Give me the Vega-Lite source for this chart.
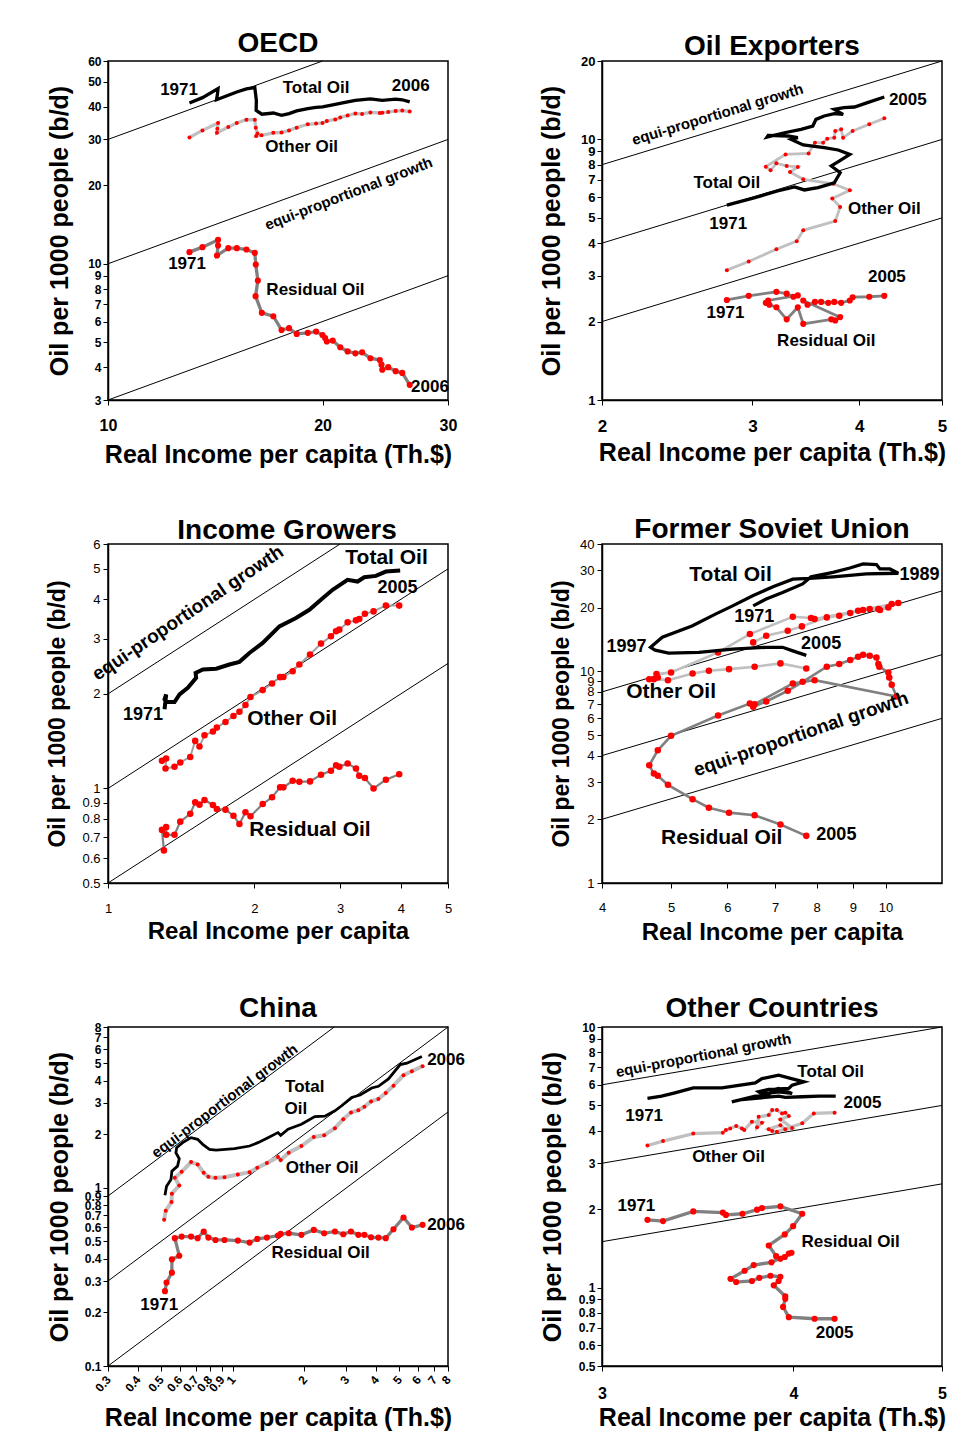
{
"$schema":"https://vega.github.io/schema/vega-lite/v6.json",
"padding":{"left":45,"top":29,"right":5,"bottom":5},
"config":{"font":"Liberation Sans","view":{"stroke":"#000","strokeWidth":1.5},
"axis":{"grid":false,"domainColor":"#000","domainWidth":1.5,"tickColor":"#000","tickSize":5,"labelColor":"#000","titleColor":"#000","titleFontWeight":"bold","labelOverlap":false,"labelFlush":false,"labelBound":false,"format":"~g"},
"axisX":{"titleBaseline":"alphabetic"},"axisY":{"titleBaseline":"middle"},
"title":{"fontSize":28,"fontWeight":"bold","color":"#000","anchor":"middle","frame":"group","baseline":"alphabetic"}},
"datasets":{
"p1":[{"s":"T","x":13.01,"y":41.4},{"s":"T","x":13.57,"y":43.4},{"s":"T","x":14.27,"y":47.0},{"s":"T","x":14.24,"y":44.6},{"s":"T","x":14.2,"y":42.6},{"s":"T","x":14.75,"y":44.3},{"s":"T","x":15.16,"y":45.6},{"s":"T","x":15.64,"y":46.9},{"s":"T","x":16.07,"y":47.4},{"s":"T","x":16.15,"y":42.4},{"s":"T","x":16.14,"y":38.8},{"s":"T","x":16.44,"y":37.5},{"s":"T","x":17.06,"y":37.9},{"s":"T","x":17.52,"y":37.1},{"s":"T","x":17.95,"y":37.7},{"s":"T","x":18.4,"y":38.6},{"s":"T","x":19.07,"y":39.4},{"s":"T","x":19.59,"y":39.8},{"s":"T","x":20.0,"y":40.0},{"s":"T","x":20.84,"y":40.9},{"s":"T","x":21.69,"y":41.8},{"s":"T","x":22.24,"y":42.4},{"s":"T","x":23.35,"y":42.9},{"s":"T","x":24.26,"y":42.4},{"s":"T","x":25.33,"y":42.8},{"s":"T","x":25.88,"y":42.6},{"s":"T","x":26.51,"y":41.8},
{"s":"O","x":13.01,"y":30.5},{"s":"O","x":13.57,"y":32.5},{"s":"O","x":14.27,"y":34.7},{"s":"O","x":14.24,"y":33.0},{"s":"O","x":14.22,"y":31.8},{"s":"O","x":14.75,"y":33.5},{"s":"O","x":15.16,"y":34.7},{"s":"O","x":15.64,"y":35.7},{"s":"O","x":16.07,"y":35.7},{"s":"O","x":16.12,"y":33.3},{"s":"O","x":16.21,"y":31.6},{"s":"O","x":16.14,"y":30.9},{"s":"O","x":16.42,"y":31.1},{"s":"O","x":17.06,"y":31.8},{"s":"O","x":17.52,"y":31.9},{"s":"O","x":17.95,"y":32.5},{"s":"O","x":18.4,"y":33.3},{"s":"O","x":19.07,"y":34.3},{"s":"O","x":19.59,"y":34.5},{"s":"O","x":20.0,"y":34.7},{"s":"O","x":20.28,"y":35.3},{"s":"O","x":20.84,"y":35.8},{"s":"O","x":21.18,"y":36.4},{"s":"O","x":21.69,"y":37.1},{"s":"O","x":22.24,"y":37.7},{"s":"O","x":22.73,"y":37.6},{"s":"O","x":23.35,"y":38.1},{"s":"O","x":24.07,"y":37.9},{"s":"O","x":24.26,"y":38.0},{"s":"O","x":24.73,"y":38.2},{"s":"O","x":25.33,"y":38.6},{"s":"O","x":25.88,"y":38.7},{"s":"O","x":26.51,"y":38.4},
{"s":"R","x":13.01,"y":11.08},{"s":"R","x":13.57,"y":11.58},{"s":"R","x":14.27,"y":12.36},{"s":"R","x":14.27,"y":11.75},{"s":"R","x":14.22,"y":10.76},{"s":"R","x":14.75,"y":11.48},{"s":"R","x":15.16,"y":11.48},{"s":"R","x":15.64,"y":11.34},{"s":"R","x":16.07,"y":11.01},{"s":"R","x":16.12,"y":9.93},{"s":"R","x":16.23,"y":8.62},{"s":"R","x":16.11,"y":7.51},{"s":"R","x":16.44,"y":6.48},{"s":"R","x":17.06,"y":6.29},{"s":"R","x":17.52,"y":5.57},{"s":"R","x":17.95,"y":5.66},{"s":"R","x":18.4,"y":5.38},{"s":"R","x":19.07,"y":5.43},{"s":"R","x":19.59,"y":5.49},{"s":"R","x":20.0,"y":5.33},{"s":"R","x":20.17,"y":5.19},{"s":"R","x":20.28,"y":5.03},{"s":"R","x":20.67,"y":5.07},{"s":"R","x":21.18,"y":4.78},{"s":"R","x":21.69,"y":4.61},{"s":"R","x":22.24,"y":4.53},{"s":"R","x":22.73,"y":4.57},{"s":"R","x":23.35,"y":4.34},{"s":"R","x":24.07,"y":4.27},{"s":"R","x":24.2,"y":4.1},{"s":"R","x":24.26,"y":3.92},{"s":"R","x":24.73,"y":4.01},{"s":"R","x":25.33,"y":3.87},{"s":"R","x":25.88,"y":3.81},{"s":"R","x":26.51,"y":3.43}],
"e1":[{"g":"a","x":10,"y":30},{"g":"a","x":20,"y":60},{"g":"b","x":10,"y":10},{"g":"b","x":30,"y":30},{"g":"c","x":10,"y":3},{"g":"c","x":30,"y":9}],
"l1":[{"k":"y","t":"1971","x":12.58,"y":46.6},{"k":"n","t":"Total Oil","x":19.59,"y":47.4},{"k":"y","t":"2006","x":26.6,"y":48.0},{"k":"n","t":"Other Oil","x":18.7,"y":28.0},{"k":"y","t":"1971","x":12.91,"y":9.99},{"k":"n","t":"Residual Oil","x":19.55,"y":7.94},{"k":"y","t":"2006","x":28.3,"y":3.38},{"k":"e","t":"equi-proportional growth","x":21.76,"y":18.6}],
"p2":[{"s":"T","x":2.8,"y":5.6},{"s":"T","x":3.02,"y":5.98},{"s":"T","x":3.21,"y":6.34},{"s":"T","x":3.36,"y":6.57},{"s":"T","x":3.45,"y":6.4},{"s":"T","x":3.58,"y":6.53},{"s":"T","x":3.74,"y":6.82},{"s":"T","x":3.8,"y":7.45},{"s":"T","x":3.71,"y":7.91},{"s":"T","x":3.79,"y":8.26},{"s":"T","x":3.9,"y":8.76},{"s":"T","x":3.78,"y":9.11},{"s":"T","x":3.64,"y":9.3},{"s":"T","x":3.44,"y":9.52},{"s":"T","x":3.33,"y":10.0},{"s":"T","x":3.39,"y":10.16},{"s":"T","x":3.3,"y":10.31},{"s":"T","x":3.13,"y":10.37},{"s":"T","x":3.12,"y":10.21},{"s":"T","x":3.27,"y":10.61},{"s":"T","x":3.42,"y":10.93},{"s":"T","x":3.53,"y":11.26},{"s":"T","x":3.56,"y":11.94},{"s":"T","x":3.64,"y":12.3},{"s":"T","x":3.74,"y":12.56},{"s":"T","x":3.83,"y":12.48},{"s":"T","x":3.74,"y":13.04},{"s":"T","x":3.84,"y":13.24},{"s":"T","x":3.95,"y":13.32},{"s":"T","x":4.09,"y":13.84},{"s":"T","x":4.28,"y":14.55},
{"s":"O","x":2.8,"y":3.15},{"s":"O","x":2.97,"y":3.4},{"s":"O","x":3.2,"y":3.79},{"s":"O","x":3.38,"y":4.07},{"s":"O","x":3.44,"y":4.48},{"s":"O","x":3.75,"y":4.86},{"s":"O","x":3.8,"y":5.5},{"s":"O","x":3.72,"y":5.94},{"s":"O","x":3.9,"y":6.38},{"s":"O","x":3.73,"y":6.76},{"s":"O","x":3.44,"y":7.03},{"s":"O","x":3.32,"y":7.5},{"s":"O","x":3.39,"y":7.84},{"s":"O","x":3.29,"y":7.91},{"s":"O","x":3.2,"y":8.1},{"s":"O","x":3.15,"y":7.61},{"s":"O","x":3.11,"y":7.86},{"s":"O","x":3.28,"y":8.76},{"s":"O","x":3.49,"y":8.84},{"s":"O","x":3.55,"y":9.72},{"s":"O","x":3.63,"y":9.72},{"s":"O","x":3.67,"y":10.07},{"s":"O","x":3.74,"y":10.16},{"s":"O","x":3.75,"y":10.77},{"s":"O","x":3.81,"y":10.93},{"s":"O","x":3.83,"y":10.16},{"s":"O","x":3.93,"y":10.77},{"s":"O","x":4.11,"y":11.43},{"s":"O","x":4.28,"y":12.05},
{"s":"R","x":2.8,"y":2.42},{"s":"R","x":2.97,"y":2.51},{"s":"R","x":3.2,"y":2.6},{"s":"R","x":3.29,"y":2.56},{"s":"R","x":3.35,"y":2.49},{"s":"R","x":3.39,"y":2.52},{"s":"R","x":3.13,"y":2.41},{"s":"R","x":3.11,"y":2.36},{"s":"R","x":3.14,"y":2.32},{"s":"R","x":3.2,"y":2.27},{"s":"R","x":3.29,"y":2.04},{"s":"R","x":3.39,"y":2.27},{"s":"R","x":3.44,"y":1.96},{"s":"R","x":3.71,"y":2.04},{"s":"R","x":3.75,"y":2.02},{"s":"R","x":3.8,"y":2.08},{"s":"R","x":3.44,"y":2.41},{"s":"R","x":3.48,"y":2.32},{"s":"R","x":3.55,"y":2.38},{"s":"R","x":3.61,"y":2.38},{"s":"R","x":3.68,"y":2.36},{"s":"R","x":3.74,"y":2.38},{"s":"R","x":3.81,"y":2.36},{"s":"R","x":3.9,"y":2.41},{"s":"R","x":3.93,"y":2.48},{"s":"R","x":4.11,"y":2.49},{"s":"R","x":4.28,"y":2.51}],
"e2":[{"g":"a","x":2,"y":8},{"g":"a","x":5,"y":20},{"g":"b","x":2,"y":4},{"g":"b","x":5,"y":10},{"g":"c","x":2,"y":2},{"g":"c","x":5,"y":5}],
"l2":[{"k":"e","t":"equi-proportional growth","x":2.73,"y":12.48},{"k":"y","t":"2005","x":4.56,"y":14.13},{"k":"n","t":"Total Oil","x":2.8,"y":6.82},{"k":"y","t":"1971","x":2.81,"y":4.75},{"k":"n","t":"Other Oil","x":4.28,"y":5.39},{"k":"y","t":"2005","x":4.31,"y":2.96},{"k":"y","t":"1971","x":2.79,"y":2.16},{"k":"n","t":"Residual Oil","x":3.66,"y":1.68}],
"p3":[{"s":"T","x":1.307,"y":1.786},{"s":"T","x":1.317,"y":1.992},{"s":"T","x":1.307,"y":1.921},{"s":"T","x":1.322,"y":1.884},{"s":"T","x":1.37,"y":1.884},{"s":"T","x":1.403,"y":1.992},{"s":"T","x":1.459,"y":2.092},{"s":"T","x":1.518,"y":2.25},{"s":"T","x":1.514,"y":2.333},{"s":"T","x":1.567,"y":2.391},{"s":"T","x":1.669,"y":2.405},{"s":"T","x":1.777,"y":2.48},{"s":"T","x":1.863,"y":2.529},{"s":"T","x":1.953,"y":2.7},{"s":"T","x":2.08,"y":2.905},{"s":"T","x":2.251,"y":3.28},{"s":"T","x":2.435,"y":3.487},{"s":"T","x":2.594,"y":3.705},{"s":"T","x":2.762,"y":4.034},{"s":"T","x":2.896,"y":4.288},{"s":"T","x":3.108,"y":4.612},{"s":"T","x":3.259,"y":4.557},{"s":"T","x":3.364,"y":4.703},{"s":"T","x":3.554,"y":4.749},{"s":"T","x":3.726,"y":4.902},{"s":"T","x":3.987,"y":4.938},
{"s":"O","x":1.291,"y":1.224},{"s":"O","x":1.317,"y":1.245},{"s":"O","x":1.313,"y":1.158},{"s":"O","x":1.37,"y":1.172},{"s":"O","x":1.408,"y":1.21},{"s":"O","x":1.476,"y":1.26},{"s":"O","x":1.511,"y":1.417},{"s":"O","x":1.542,"y":1.36},{"s":"O","x":1.579,"y":1.477},{"s":"O","x":1.643,"y":1.517},{"s":"O","x":1.674,"y":1.562},{"s":"O","x":1.744,"y":1.628},{"s":"O","x":1.811,"y":1.701},{"s":"O","x":1.863,"y":1.755},{"s":"O","x":1.917,"y":1.843},{"s":"O","x":1.963,"y":1.954},{"s":"O","x":2.08,"y":2.056},{"s":"O","x":2.174,"y":2.157},{"s":"O","x":2.258,"y":2.261},{"s":"O","x":2.294,"y":2.264},{"s":"O","x":2.397,"y":2.362},{"s":"O","x":2.474,"y":2.48},{"s":"O","x":2.602,"y":2.668},{"s":"O","x":2.741,"y":2.891},{"s":"O","x":2.873,"y":3.05},{"s":"O","x":2.943,"y":3.164},{"s":"O","x":2.989,"y":3.203},{"s":"O","x":3.109,"y":3.378},{"s":"O","x":3.234,"y":3.428},{"s":"O","x":3.285,"y":3.461},{"s":"O","x":3.374,"y":3.599},{"s":"O","x":3.515,"y":3.661},{"s":"O","x":3.726,"y":3.825},{"s":"O","x":3.969,"y":3.82},
{"s":"R","x":1.303,"y":0.635},{"s":"R","x":1.291,"y":0.738},{"s":"R","x":1.317,"y":0.753},{"s":"R","x":1.317,"y":0.712},{"s":"R","x":1.37,"y":0.712},{"s":"R","x":1.408,"y":0.784},{"s":"R","x":1.476,"y":0.83},{"s":"R","x":1.511,"y":0.903},{"s":"R","x":1.542,"y":0.888},{"s":"R","x":1.579,"y":0.919},{"s":"R","x":1.643,"y":0.886},{"s":"R","x":1.674,"y":0.86},{"s":"R","x":1.744,"y":0.856},{"s":"R","x":1.811,"y":0.819},{"s":"R","x":1.863,"y":0.771},{"s":"R","x":1.917,"y":0.84},{"s":"R","x":1.963,"y":0.816},{"s":"R","x":2.08,"y":0.892},{"s":"R","x":2.174,"y":0.937},{"s":"R","x":2.258,"y":1.008},{"s":"R","x":2.294,"y":1.008},{"s":"R","x":2.397,"y":1.058},{"s":"R","x":2.474,"y":1.05},{"s":"R","x":2.602,"y":1.053},{"s":"R","x":2.741,"y":1.106},{"s":"R","x":2.873,"y":1.138},{"s":"R","x":2.943,"y":1.186},{"s":"R","x":2.989,"y":1.172},{"s":"R","x":3.109,"y":1.201},{"s":"R","x":3.234,"y":1.158},{"s":"R","x":3.285,"y":1.097},{"s":"R","x":3.374,"y":1.079},{"s":"R","x":3.515,"y":1.0},{"s":"R","x":3.726,"y":1.066},{"s":"R","x":3.969,"y":1.109}],
"e3":[{"g":"a","x":1,"y":2},{"g":"a","x":3,"y":6},{"g":"b","x":1,"y":1},{"g":"b","x":5,"y":5},{"g":"c","x":1,"y":0.5},{"g":"c","x":5,"y":2.5}],
"l3":[{"k":"e","t":"equi-proportional growth","x":1.459,"y":3.62},{"k":"n","t":"Total Oil","x":3.738,"y":5.43},{"k":"n","t":"Other Oil","x":2.39,"y":1.668},{"k":"n","t":"Residual Oil","x":2.602,"y":0.74},{"k":"y","t":"2005","x":3.937,"y":4.34},{"k":"y","t":"1971","x":1.18,"y":1.709}],
"p4":[{"s":"T","x":6.52,"y":20.4},{"s":"T","x":6.8,"y":22.0},{"s":"T","x":7.17,"y":23.6},{"s":"T","x":7.65,"y":25.9},{"s":"T","x":7.86,"y":28.0},{"s":"T","x":8.44,"y":29.4},{"s":"T","x":8.91,"y":30.8},{"s":"T","x":9.3,"y":32.2},{"s":"T","x":9.71,"y":32.0},{"s":"T","x":9.82,"y":30.5},{"s":"T","x":10.14,"y":30.5},{"s":"T","x":10.42,"y":29.1},{"s":"T","x":9.4,"y":28.9},{"s":"T","x":8.44,"y":28.0},{"s":"T","x":7.82,"y":27.5},{"s":"T","x":7.41,"y":27.3},{"s":"T","x":6.95,"y":25.1},{"s":"T","x":6.51,"y":22.8},{"s":"T","x":6.1,"y":20.4},{"s":"T","x":5.78,"y":18.7},{"s":"T","x":5.35,"y":16.4},{"s":"T","x":4.86,"y":14.5},{"s":"T","x":4.68,"y":13.0},{"s":"T","x":4.75,"y":12.6},{"s":"T","x":4.96,"y":12.2},{"s":"T","x":5.47,"y":12.3},{"s":"T","x":6.1,"y":12.75},{"s":"T","x":6.8,"y":13.0},{"s":"T","x":7.17,"y":13.0},{"s":"T","x":7.41,"y":12.5},{"s":"T","x":7.74,"y":11.9},
{"s":"O","x":6.52,"y":13.71},{"s":"O","x":6.8,"y":14.74},{"s":"O","x":7.29,"y":15.57},{"s":"O","x":7.63,"y":16.32},{"s":"O","x":8.27,"y":18.0},{"s":"O","x":8.61,"y":18.33},{"s":"O","x":8.92,"y":18.87},{"s":"O","x":9.15,"y":19.35},{"s":"O","x":9.3,"y":19.5},{"s":"O","x":9.5,"y":19.7},{"s":"O","x":9.77,"y":19.7},{"s":"O","x":9.82,"y":19.5},{"s":"O","x":10.09,"y":20.07},{"s":"O","x":10.2,"y":20.8},{"s":"O","x":10.42,"y":21.04},{"s":"O","x":7.95,"y":17.7},{"s":"O","x":7.86,"y":17.87},{"s":"O","x":7.41,"y":18.13},{"s":"O","x":6.45,"y":15.01},{"s":"O","x":5.82,"y":12.29},{"s":"O","x":5.0,"y":9.89},{"s":"O","x":4.77,"y":9.71},{"s":"O","x":4.79,"y":9.36},{"s":"O","x":4.66,"y":9.19},{"s":"O","x":4.73,"y":9.19},{"s":"O","x":4.95,"y":9.09},{"s":"O","x":5.36,"y":9.78},{"s":"O","x":5.65,"y":10.07},{"s":"O","x":6.03,"y":10.25},{"s":"O","x":6.55,"y":10.52},{"s":"O","x":7.12,"y":10.91},{"s":"O","x":7.74,"y":10.33},
{"s":"R","x":6.52,"y":6.8},{"s":"R","x":6.8,"y":7.21},{"s":"R","x":7.29,"y":8.1},{"s":"R","x":7.65,"y":8.93},{"s":"R","x":8.27,"y":10.52},{"s":"R","x":8.61,"y":10.83},{"s":"R","x":8.92,"y":11.31},{"s":"R","x":9.15,"y":11.73},{"s":"R","x":9.3,"y":11.98},{"s":"R","x":9.5,"y":11.86},{"s":"R","x":9.71,"y":11.64},{"s":"R","x":9.77,"y":10.83},{"s":"R","x":9.8,"y":10.52},{"s":"R","x":10.09,"y":9.89},{"s":"R","x":10.12,"y":9.36},{"s":"R","x":10.2,"y":8.64},{"s":"R","x":10.36,"y":7.61},{"s":"R","x":7.95,"y":9.09},{"s":"R","x":7.41,"y":8.77},{"s":"R","x":6.55,"y":7.0},{"s":"R","x":6.45,"y":7.05},{"s":"R","x":5.82,"y":6.19},{"s":"R","x":5.0,"y":4.96},{"s":"R","x":4.79,"y":4.24},{"s":"R","x":4.66,"y":3.6},{"s":"R","x":4.73,"y":3.29},{"s":"R","x":4.79,"y":3.21},{"s":"R","x":4.95,"y":2.91},{"s":"R","x":5.36,"y":2.49},{"s":"R","x":5.65,"y":2.27},{"s":"R","x":6.03,"y":2.15},{"s":"R","x":6.55,"y":2.09},{"s":"R","x":7.12,"y":1.89},{"s":"R","x":7.74,"y":1.67}],
"e4":[{"g":"a","x":4,"y":8},{"g":"a","x":12,"y":24},{"g":"b","x":4,"y":4},{"g":"b","x":12,"y":12},{"g":"c","x":4,"y":2},{"g":"c","x":12,"y":6}],
"l4":[{"k":"e","t":"equi-proportional growth","x":7.61,"y":5.05},{"k":"n","t":"Total Oil","x":6.06,"y":28.6},{"k":"n","t":"Other Oil","x":5.0,"y":7.95},{"k":"n","t":"Residual Oil","x":5.89,"y":1.63},{"k":"y","t":"1989","x":11.16,"y":28.6},{"k":"y","t":"1971","x":6.54,"y":18.1},{"k":"y","t":"1997","x":4.33,"y":13.1},{"k":"y","t":"2005","x":8.12,"y":13.46},{"k":"y","t":"2005","x":8.53,"y":1.69}],
"p5":[{"s":"T","x":0.52,"y":0.908},{"s":"T","x":0.528,"y":1.021},{"s":"T","x":0.551,"y":1.113},{"s":"T","x":0.556,"y":1.241},{"s":"T","x":0.587,"y":1.324},{"s":"T","x":0.597,"y":1.457},{"s":"T","x":0.578,"y":1.575},{"s":"T","x":0.582,"y":1.681},{"s":"T","x":0.617,"y":1.794},{"s":"T","x":0.669,"y":1.914},{"s":"T","x":0.713,"y":1.873},{"s":"T","x":0.749,"y":1.755},{"s":"T","x":0.799,"y":1.645},{"s":"T","x":0.852,"y":1.631},{"s":"T","x":1.018,"y":1.659},{"s":"T","x":1.177,"y":1.718},{"s":"T","x":1.276,"y":1.794},{"s":"T","x":1.406,"y":1.914},{"s":"T","x":1.549,"y":2.043},{"s":"T","x":1.59,"y":1.973},{"s":"T","x":1.707,"y":2.134},{"s":"T","x":1.942,"y":2.277},{"s":"T","x":2.21,"y":2.515},{"s":"T","x":2.436,"y":2.527},{"s":"T","x":2.684,"y":2.708},{"s":"T","x":2.864,"y":2.89},{"s":"T","x":3.155,"y":3.22},{"s":"T","x":3.421,"y":3.32},{"s":"T","x":3.829,"y":3.636},{"s":"T","x":4.085,"y":3.716},{"s":"T","x":4.502,"y":4.088},{"s":"T","x":5.041,"y":4.924},{"s":"T","x":5.377,"y":5.01},{"s":"T","x":6.22,"y":5.464},
{"s":"O","x":0.516,"y":0.662},{"s":"O","x":0.524,"y":0.744},{"s":"O","x":0.554,"y":0.833},{"s":"O","x":0.556,"y":0.928},{"s":"O","x":0.597,"y":1.03},{"s":"O","x":0.572,"y":1.138},{"s":"O","x":0.611,"y":1.23},{"s":"O","x":0.669,"y":1.395},{"s":"O","x":0.713,"y":1.354},{"s":"O","x":0.756,"y":1.214},{"s":"O","x":0.791,"y":1.153},{"s":"O","x":0.847,"y":1.138},{"s":"O","x":0.924,"y":1.148},{"s":"O","x":1.051,"y":1.188},{"s":"O","x":1.177,"y":1.225},{"s":"O","x":1.268,"y":1.296},{"s":"O","x":1.392,"y":1.377},{"s":"O","x":1.549,"y":1.489},{"s":"O","x":1.59,"y":1.432},{"s":"O","x":1.718,"y":1.575},{"s":"O","x":1.942,"y":1.718},{"s":"O","x":2.189,"y":1.931},{"s":"O","x":2.42,"y":1.973},{"s":"O","x":2.684,"y":2.162},{"s":"O","x":2.91,"y":2.43},{"s":"O","x":3.135,"y":2.65},{"s":"O","x":3.366,"y":2.731},{"s":"O","x":3.568,"y":2.852},{"s":"O","x":3.806,"y":3.058},{"s":"O","x":4.085,"y":3.151},{"s":"O","x":4.386,"y":3.407},{"s":"O","x":4.725,"y":3.748},{"s":"O","x":5.206,"y":4.288},{"s":"O","x":5.645,"y":4.517},{"s":"O","x":6.26,"y":4.821},
{"s":"R","x":0.52,"y":0.263},{"s":"R","x":0.528,"y":0.294},{"s":"R","x":0.556,"y":0.334},{"s":"R","x":0.556,"y":0.397},{"s":"R","x":0.597,"y":0.416},{"s":"R","x":0.572,"y":0.522},{"s":"R","x":0.611,"y":0.533},{"s":"R","x":0.669,"y":0.533},{"s":"R","x":0.713,"y":0.522},{"s":"R","x":0.756,"y":0.569},{"s":"R","x":0.791,"y":0.526},{"s":"R","x":0.847,"y":0.51},{"s":"R","x":0.924,"y":0.51},{"s":"R","x":1.051,"y":0.506},{"s":"R","x":1.177,"y":0.493},{"s":"R","x":1.268,"y":0.517},{"s":"R","x":1.392,"y":0.526},{"s":"R","x":1.549,"y":0.54},{"s":"R","x":1.59,"y":0.552},{"s":"R","x":1.718,"y":0.556},{"s":"R","x":1.942,"y":0.545},{"s":"R","x":2.189,"y":0.581},{"s":"R","x":2.42,"y":0.556},{"s":"R","x":2.684,"y":0.569},{"s":"R","x":2.91,"y":0.549},{"s":"R","x":3.135,"y":0.569},{"s":"R","x":3.366,"y":0.545},{"s":"R","x":3.568,"y":0.545},{"s":"R","x":3.806,"y":0.528},{"s":"R","x":4.085,"y":0.526},{"s":"R","x":4.386,"y":0.522},{"s":"R","x":4.725,"y":0.586},{"s":"R","x":5.206,"y":0.682},{"s":"R","x":5.645,"y":0.599},{"s":"R","x":6.26,"y":0.62}],
"e5":[{"g":"a","x":0.3,"y":0.9},{"g":"a","x":2.667,"y":8},{"g":"b","x":0.3,"y":0.3},{"g":"b","x":8,"y":8},{"g":"c","x":0.3,"y":0.1},{"g":"c","x":8,"y":2.667}],
"l5":[{"k":"e","t":"equi-proportional growth","x":0.924,"y":3.08},{"k":"n","t":"Total","x":2.006,"y":3.67},{"k":"n","t":"Oil","x":1.839,"y":2.77},{"k":"y","t":"2006","x":7.85,"y":5.19},{"k":"n","t":"Other Oil","x":2.374,"y":1.285},{"k":"y","t":"2006","x":7.85,"y":0.615},{"k":"n","t":"Residual Oil","x":2.34,"y":0.429},{"k":"y","t":"1971","x":0.492,"y":0.221}],
"p6":[{"s":"T","x":3.212,"y":5.32},{"s":"T","x":3.281,"y":5.43},{"s":"T","x":3.347,"y":5.59},{"s":"T","x":3.441,"y":5.84},{"s":"T","x":3.592,"y":5.84},{"s":"T","x":3.777,"y":6.1},{"s":"T","x":3.815,"y":6.34},{"s":"T","x":3.912,"y":6.53},{"s":"T","x":3.988,"y":6.34},{"s":"T","x":4.063,"y":6.16},{"s":"T","x":3.992,"y":5.98},{"s":"T","x":3.972,"y":5.81},{"s":"T","x":3.854,"y":5.76},{"s":"T","x":3.796,"y":5.64},{"s":"T","x":3.815,"y":5.53},{"s":"T","x":3.912,"y":5.64},{"s":"T","x":3.992,"y":5.56},{"s":"T","x":3.912,"y":5.81},{"s":"T","x":3.874,"y":5.73},{"s":"T","x":3.854,"y":5.48},{"s":"T","x":3.777,"y":5.43},{"s":"T","x":3.646,"y":5.16},{"s":"T","x":3.702,"y":5.27},{"s":"T","x":3.834,"y":5.37},{"s":"T","x":3.912,"y":5.43},{"s":"T","x":3.951,"y":5.37},{"s":"T","x":4.053,"y":5.4},{"s":"T","x":4.156,"y":5.43},{"s":"T","x":4.262,"y":5.43},
{"s":"O","x":3.212,"y":3.51},{"s":"O","x":3.288,"y":3.65},{"s":"O","x":3.441,"y":3.9},{"s":"O","x":3.597,"y":3.93},{"s":"O","x":3.614,"y":4.02},{"s":"O","x":3.637,"y":4.08},{"s":"O","x":3.67,"y":4.17},{"s":"O","x":3.702,"y":4.08},{"s":"O","x":3.715,"y":4.02},{"s":"O","x":3.758,"y":4.33},{"s":"O","x":3.815,"y":4.29},{"s":"O","x":3.787,"y":4.12},{"s":"O","x":3.796,"y":4.52},{"s":"O","x":3.854,"y":4.59},{"s":"O","x":3.874,"y":4.8},{"s":"O","x":3.902,"y":4.8},{"s":"O","x":3.932,"y":4.66},{"s":"O","x":3.951,"y":4.69},{"s":"O","x":3.972,"y":4.55},{"s":"O","x":3.922,"y":4.42},{"s":"O","x":3.992,"y":4.1},{"s":"O","x":3.951,"y":4.05},{"s":"O","x":3.922,"y":4.2},{"s":"O","x":3.854,"y":4.05},{"s":"O","x":3.874,"y":3.99},{"s":"O","x":3.902,"y":3.96},{"s":"O","x":4.053,"y":4.27},{"s":"O","x":4.124,"y":4.66},{"s":"O","x":4.255,"y":4.69},
{"s":"R","x":3.212,"y":1.82},{"s":"R","x":3.288,"y":1.8},{"s":"R","x":3.441,"y":1.96},{"s":"R","x":3.597,"y":1.94},{"s":"R","x":3.614,"y":1.9},{"s":"R","x":3.705,"y":1.92},{"s":"R","x":3.787,"y":1.99},{"s":"R","x":3.815,"y":2.02},{"s":"R","x":3.922,"y":2.05},{"s":"R","x":4.053,"y":1.92},{"s":"R","x":3.998,"y":1.72},{"s":"R","x":3.948,"y":1.6},{"s":"R","x":3.854,"y":1.45},{"s":"R","x":3.897,"y":1.32},{"s":"R","x":3.922,"y":1.29},{"s":"R","x":3.948,"y":1.31},{"s":"R","x":3.972,"y":1.35},{"s":"R","x":3.988,"y":1.36},{"s":"R","x":3.87,"y":1.25},{"s":"R","x":3.768,"y":1.22},{"s":"R","x":3.717,"y":1.16},{"s":"R","x":3.639,"y":1.08},{"s":"R","x":3.67,"y":1.05},{"s":"R","x":3.758,"y":1.06},{"s":"R","x":3.8,"y":1.09},{"s":"R","x":3.864,"y":1.11},{"s":"R","x":3.922,"y":1.1},{"s":"R","x":3.912,"y":1.06},{"s":"R","x":3.883,"y":1.02},{"s":"R","x":3.951,"y":0.926},{"s":"R","x":3.951,"y":0.905},{"s":"R","x":3.938,"y":0.843},{"s":"R","x":3.972,"y":0.77},{"s":"R","x":4.129,"y":0.759},{"s":"R","x":4.255,"y":0.759}],
"e6":[{"g":"a","x":3,"y":6},{"g":"a","x":5,"y":10},{"g":"b","x":3,"y":3},{"g":"b","x":5,"y":5},{"g":"c","x":3,"y":1.5},{"g":"c","x":5,"y":2.5}],
"l6":[{"k":"e","t":"equi-proportional growth","x":3.494,"y":7.79},{"k":"n","t":"Total Oil","x":4.23,"y":6.73},{"k":"y","t":"2005","x":4.437,"y":5.09},{"k":"y","t":"1971","x":3.196,"y":4.55},{"k":"n","t":"Other Oil","x":3.628,"y":3.18},{"k":"y","t":"1971","x":3.159,"y":2.05},{"k":"n","t":"Residual Oil","x":4.359,"y":1.5},{"k":"y","t":"2005","x":4.255,"y":0.667}]
},
"columns":2,
"bounds":"flush",
"spacing":{"row":144,"column":154},
"concat":[
{"title":{"text":"OECD","offset":-3},"width":340,"height":339,
"encoding":{"x":{"field":"x","type":"quantitative","scale":{"type":"log","domain":[10,30],"nice":false},"axis":{"values":[10,20,30],"title":"Real Income per capita (Th.$)","titleFontSize":25,"titleY":62,"labelFontSize":16,"labelFontWeight":"bold","labelPadding":12}},
"y":{"field":"y","type":"quantitative","scale":{"type":"log","domain":[3,60],"nice":false},"axis":{"values":[3,4,5,6,7,8,9,10,20,30,40,50,60],"title":"Oil per 1000 people (b/d)","titleFontSize":25,"titleX":-49,"labelFontSize":12,"labelFontWeight":"bold","labelPadding":2}}},
"layer":[
{"data":{"name":"e1"},"mark":{"type":"line","color":"#000","strokeWidth":1},"encoding":{"detail":{"field":"g"}}},
{"data":{"name":"p1"},"transform":[{"filter":"datum.s==='O'"}],"mark":{"type":"line","color":"#c0c0c0","strokeWidth":3.3},"encoding":{"order":{"value":null}}},
{"data":{"name":"p1"},"transform":[{"filter":"datum.s==='O'"}],"mark":{"type":"circle","color":"#ff0000","size":16,"opacity":1}},
{"data":{"name":"p1"},"transform":[{"filter":"datum.s==='R'"}],"mark":{"type":"line","color":"#808080","strokeWidth":3.3},"encoding":{"order":{"value":null}}},
{"data":{"name":"p1"},"transform":[{"filter":"datum.s==='R'"}],"mark":{"type":"circle","color":"#ff0000","size":38,"opacity":1}},
{"data":{"name":"p1"},"transform":[{"filter":"datum.s==='T'"}],"mark":{"type":"line","color":"#000","strokeWidth":3.3},"encoding":{"order":{"value":null}}},
{"data":{"name":"l1"},"transform":[{"filter":"datum.k!=='e'"}],"mark":{"type":"text","fontSize":17,"fontWeight":"bold","color":"#000"},"encoding":{"text":{"field":"t"}}},
{"data":{"name":"l1"},"transform":[{"filter":"datum.k==='e'"}],"mark":{"type":"text","fontSize":15,"fontWeight":"bold","color":"#000","angle":339},"encoding":{"text":{"field":"t"}}}
]},
{"title":{"text":"Oil Exporters","offset":-6},"width":340,"height":339,
"encoding":{"x":{"field":"x","type":"quantitative","scale":{"type":"log","domain":[2,5],"nice":false},"axis":{"values":[2,3,4,5],"title":"Real Income per capita (Th.$)","titleFontSize":25,"titleY":60,"labelFontSize":17,"labelFontWeight":"bold","labelPadding":13}},
"y":{"field":"y","type":"quantitative","scale":{"type":"log","domain":[1,20],"nice":false},"axis":{"values":[1,2,3,4,5,6,7,8,9,10,20],"title":"Oil per 1000 people (b/d)","titleFontSize":25,"titleX":-51,"labelFontSize":13,"labelFontWeight":"bold","labelPadding":2}}},
"layer":[
{"data":{"name":"e2"},"mark":{"type":"line","color":"#000","strokeWidth":1},"encoding":{"detail":{"field":"g"}}},
{"data":{"name":"p2"},"transform":[{"filter":"datum.s==='O'"}],"mark":{"type":"line","color":"#c0c0c0","strokeWidth":2.8},"encoding":{"order":{"value":null}}},
{"data":{"name":"p2"},"transform":[{"filter":"datum.s==='O'"}],"mark":{"type":"circle","color":"#ff0000","size":16,"opacity":1}},
{"data":{"name":"p2"},"transform":[{"filter":"datum.s==='R'"}],"mark":{"type":"line","color":"#808080","strokeWidth":2.8},"encoding":{"order":{"value":null}}},
{"data":{"name":"p2"},"transform":[{"filter":"datum.s==='R'"}],"mark":{"type":"circle","color":"#ff0000","size":38,"opacity":1}},
{"data":{"name":"p2"},"transform":[{"filter":"datum.s==='T'"}],"mark":{"type":"line","color":"#000","strokeWidth":3.3},"encoding":{"order":{"value":null}}},
{"data":{"name":"l2"},"transform":[{"filter":"datum.k!=='e'"}],"mark":{"type":"text","fontSize":17,"fontWeight":"bold","color":"#000"},"encoding":{"text":{"field":"t"}}},
{"data":{"name":"l2"},"transform":[{"filter":"datum.k==='e'"}],"mark":{"type":"text","fontSize":15,"fontWeight":"bold","color":"#000","angle":343},"encoding":{"text":{"field":"t"}}}
]},
{"title":{"text":"Income Growers","offset":-7,"dx":9},"width":340,"height":339,
"encoding":{"x":{"field":"x","type":"quantitative","scale":{"type":"log","domain":[1,5],"nice":false},"axis":{"values":[1,2,3,4,5],"title":"Real Income per capita","titleFontSize":24,"titleY":55,"labelFontSize":13,"labelPadding":14}},
"y":{"field":"y","type":"quantitative","scale":{"type":"log","domain":[0.5,6],"nice":false},"axis":{"values":[0.5,0.6,0.7,0.8,0.9,1,2,3,4,5,6],"title":"Oil per 1000 people (b/d)","titleFontSize":23,"titleX":-51,"labelFontSize":13,"labelPadding":3}}},
"layer":[
{"data":{"name":"e3"},"mark":{"type":"line","color":"#000","strokeWidth":1},"encoding":{"detail":{"field":"g"}}},
{"data":{"name":"p3"},"transform":[{"filter":"datum.s==='O'"}],"mark":{"type":"line","color":"#a0a0a0","strokeWidth":2},"encoding":{"order":{"value":null}}},
{"data":{"name":"p3"},"transform":[{"filter":"datum.s==='O'"}],"mark":{"type":"circle","color":"#ff0000","size":43,"opacity":1}},
{"data":{"name":"p3"},"transform":[{"filter":"datum.s==='R'"}],"mark":{"type":"line","color":"#808080","strokeWidth":2.2},"encoding":{"order":{"value":null}}},
{"data":{"name":"p3"},"transform":[{"filter":"datum.s==='R'"}],"mark":{"type":"circle","color":"#ff0000","size":43,"opacity":1}},
{"data":{"name":"p3"},"transform":[{"filter":"datum.s==='T'"}],"mark":{"type":"line","color":"#000","strokeWidth":4},"encoding":{"order":{"value":null}}},
{"data":{"name":"l3"},"transform":[{"filter":"datum.k==='n'"}],"mark":{"type":"text","fontSize":21,"fontWeight":"bold","color":"#000"},"encoding":{"text":{"field":"t"}}},
{"data":{"name":"l3"},"transform":[{"filter":"datum.k==='y'"}],"mark":{"type":"text","fontSize":18,"fontWeight":"bold","color":"#000"},"encoding":{"text":{"field":"t"}}},
{"data":{"name":"l3"},"transform":[{"filter":"datum.k==='e'"}],"mark":{"type":"text","fontSize":19,"fontWeight":"bold","color":"#000","angle":326},"encoding":{"text":{"field":"t"}}}
]},
{"title":{"text":"Former Soviet Union","offset":-6},"width":340,"height":339,
"encoding":{"x":{"field":"x","type":"quantitative","scale":{"type":"log","domain":[4,12],"nice":false},"axis":{"values":[4,5,6,7,8,9,10],"title":"Real Income per capita","titleFontSize":24,"titleY":56,"labelFontSize":13,"labelPadding":13}},
"y":{"field":"y","type":"quantitative","scale":{"type":"log","domain":[1,40],"nice":false},"axis":{"values":[1,2,3,4,5,6,7,8,9,10,20,30,40],"title":"Oil per 1000 people (b/d)","titleFontSize":23,"titleX":-41,"labelFontSize":13,"labelPadding":3}}},
"layer":[
{"data":{"name":"e4"},"mark":{"type":"line","color":"#000","strokeWidth":1},"encoding":{"detail":{"field":"g"}}},
{"data":{"name":"p4"},"transform":[{"filter":"datum.s==='O'"}],"mark":{"type":"line","color":"#c0c0c0","strokeWidth":2.6},"encoding":{"order":{"value":null}}},
{"data":{"name":"p4"},"transform":[{"filter":"datum.s==='O'"}],"mark":{"type":"circle","color":"#ff0000","size":43,"opacity":1}},
{"data":{"name":"p4"},"transform":[{"filter":"datum.s==='R'"}],"mark":{"type":"line","color":"#808080","strokeWidth":2.6},"encoding":{"order":{"value":null}}},
{"data":{"name":"p4"},"transform":[{"filter":"datum.s==='R'"}],"mark":{"type":"circle","color":"#ff0000","size":43,"opacity":1}},
{"data":{"name":"p4"},"transform":[{"filter":"datum.s==='T'"}],"mark":{"type":"line","color":"#000","strokeWidth":3.3},"encoding":{"order":{"value":null}}},
{"data":{"name":"l4"},"transform":[{"filter":"datum.k==='n'"}],"mark":{"type":"text","fontSize":21,"fontWeight":"bold","color":"#000"},"encoding":{"text":{"field":"t"}}},
{"data":{"name":"l4"},"transform":[{"filter":"datum.k==='y'"}],"mark":{"type":"text","fontSize":18,"fontWeight":"bold","color":"#000"},"encoding":{"text":{"field":"t"}}},
{"data":{"name":"l4"},"transform":[{"filter":"datum.k==='e'"}],"mark":{"type":"text","fontSize":19,"fontWeight":"bold","color":"#000","angle":341},"encoding":{"text":{"field":"t"}}}
]},
{"title":{"text":"China","offset":-2},"width":340,"height":339,
"encoding":{"x":{"field":"x","type":"quantitative","scale":{"type":"log","domain":[0.3,8],"nice":false},"axis":{"values":[0.3,0.4,0.5,0.6,0.7,0.8,0.9,1,2,3,4,5,6,7,8],"title":"Real Income per capita (Th.$)","titleFontSize":25,"titleY":59,"labelFontSize":12,"labelFontWeight":"bold","labelAngle":-50,"labelPadding":6}},
"y":{"field":"y","type":"quantitative","scale":{"type":"log","domain":[0.1,8],"nice":false},"axis":{"values":[0.1,0.2,0.3,0.4,0.5,0.6,0.7,0.8,0.9,1,2,3,4,5,6,7,8],"title":"Oil per 1000 people (b/d)","titleFontSize":25,"titleX":-49,"labelFontSize":12,"labelFontWeight":"bold","labelPadding":2}}},
"layer":[
{"data":{"name":"e5"},"mark":{"type":"line","color":"#000","strokeWidth":1},"encoding":{"detail":{"field":"g"}}},
{"data":{"name":"p5"},"transform":[{"filter":"datum.s==='O'"}],"mark":{"type":"line","color":"#c0c0c0","strokeWidth":4},"encoding":{"order":{"value":null}}},
{"data":{"name":"p5"},"transform":[{"filter":"datum.s==='O'"}],"mark":{"type":"circle","color":"#ff0000","size":16,"opacity":1}},
{"data":{"name":"p5"},"transform":[{"filter":"datum.s==='R'"}],"mark":{"type":"line","color":"#808080","strokeWidth":3.3},"encoding":{"order":{"value":null}}},
{"data":{"name":"p5"},"transform":[{"filter":"datum.s==='R'"}],"mark":{"type":"circle","color":"#ff0000","size":38,"opacity":1}},
{"data":{"name":"p5"},"transform":[{"filter":"datum.s==='T'"}],"mark":{"type":"line","color":"#000","strokeWidth":2.8},"encoding":{"order":{"value":null}}},
{"data":{"name":"l5"},"transform":[{"filter":"datum.k!=='e'"}],"mark":{"type":"text","fontSize":17,"fontWeight":"bold","color":"#000"},"encoding":{"text":{"field":"t"}}},
{"data":{"name":"l5"},"transform":[{"filter":"datum.k==='e'"}],"mark":{"type":"text","fontSize":15,"fontWeight":"bold","color":"#000","angle":323},"encoding":{"text":{"field":"t"}}}
]},
{"title":{"text":"Other Countries","offset":-2},"width":340,"height":339,
"encoding":{"x":{"field":"x","type":"quantitative","scale":{"type":"log","domain":[3,5],"nice":false},"axis":{"values":[3,4,5],"title":"Real Income per capita (Th.$)","titleFontSize":25,"titleY":59,"labelFontSize":16,"labelFontWeight":"bold","labelPadding":14}},
"y":{"field":"y","type":"quantitative","scale":{"type":"log","domain":[0.5,10],"nice":false},"axis":{"values":[0.5,0.6,0.7,0.8,0.9,1,2,3,4,5,6,7,8,9,10],"title":"Oil per 1000 people (b/d)","titleFontSize":25,"titleX":-50,"labelFontSize":12,"labelFontWeight":"bold","labelPadding":2}}},
"layer":[
{"data":{"name":"e6"},"mark":{"type":"line","color":"#000","strokeWidth":1},"encoding":{"detail":{"field":"g"}}},
{"data":{"name":"p6"},"transform":[{"filter":"datum.s==='O'"}],"mark":{"type":"line","color":"#c0c0c0","strokeWidth":3.3},"encoding":{"order":{"value":null}}},
{"data":{"name":"p6"},"transform":[{"filter":"datum.s==='O'"}],"mark":{"type":"circle","color":"#ff0000","size":16,"opacity":1}},
{"data":{"name":"p6"},"transform":[{"filter":"datum.s==='R'"}],"mark":{"type":"line","color":"#808080","strokeWidth":3.3},"encoding":{"order":{"value":null}}},
{"data":{"name":"p6"},"transform":[{"filter":"datum.s==='R'"}],"mark":{"type":"circle","color":"#ff0000","size":38,"opacity":1}},
{"data":{"name":"p6"},"transform":[{"filter":"datum.s==='T'"}],"mark":{"type":"line","color":"#000","strokeWidth":3.3},"encoding":{"order":{"value":null}}},
{"data":{"name":"l6"},"transform":[{"filter":"datum.k!=='e'"}],"mark":{"type":"text","fontSize":17,"fontWeight":"bold","color":"#000"},"encoding":{"text":{"field":"t"}}},
{"data":{"name":"l6"},"transform":[{"filter":"datum.k==='e'"}],"mark":{"type":"text","fontSize":15,"fontWeight":"bold","color":"#000","angle":349},"encoding":{"text":{"field":"t"}}}
]}
]
}
